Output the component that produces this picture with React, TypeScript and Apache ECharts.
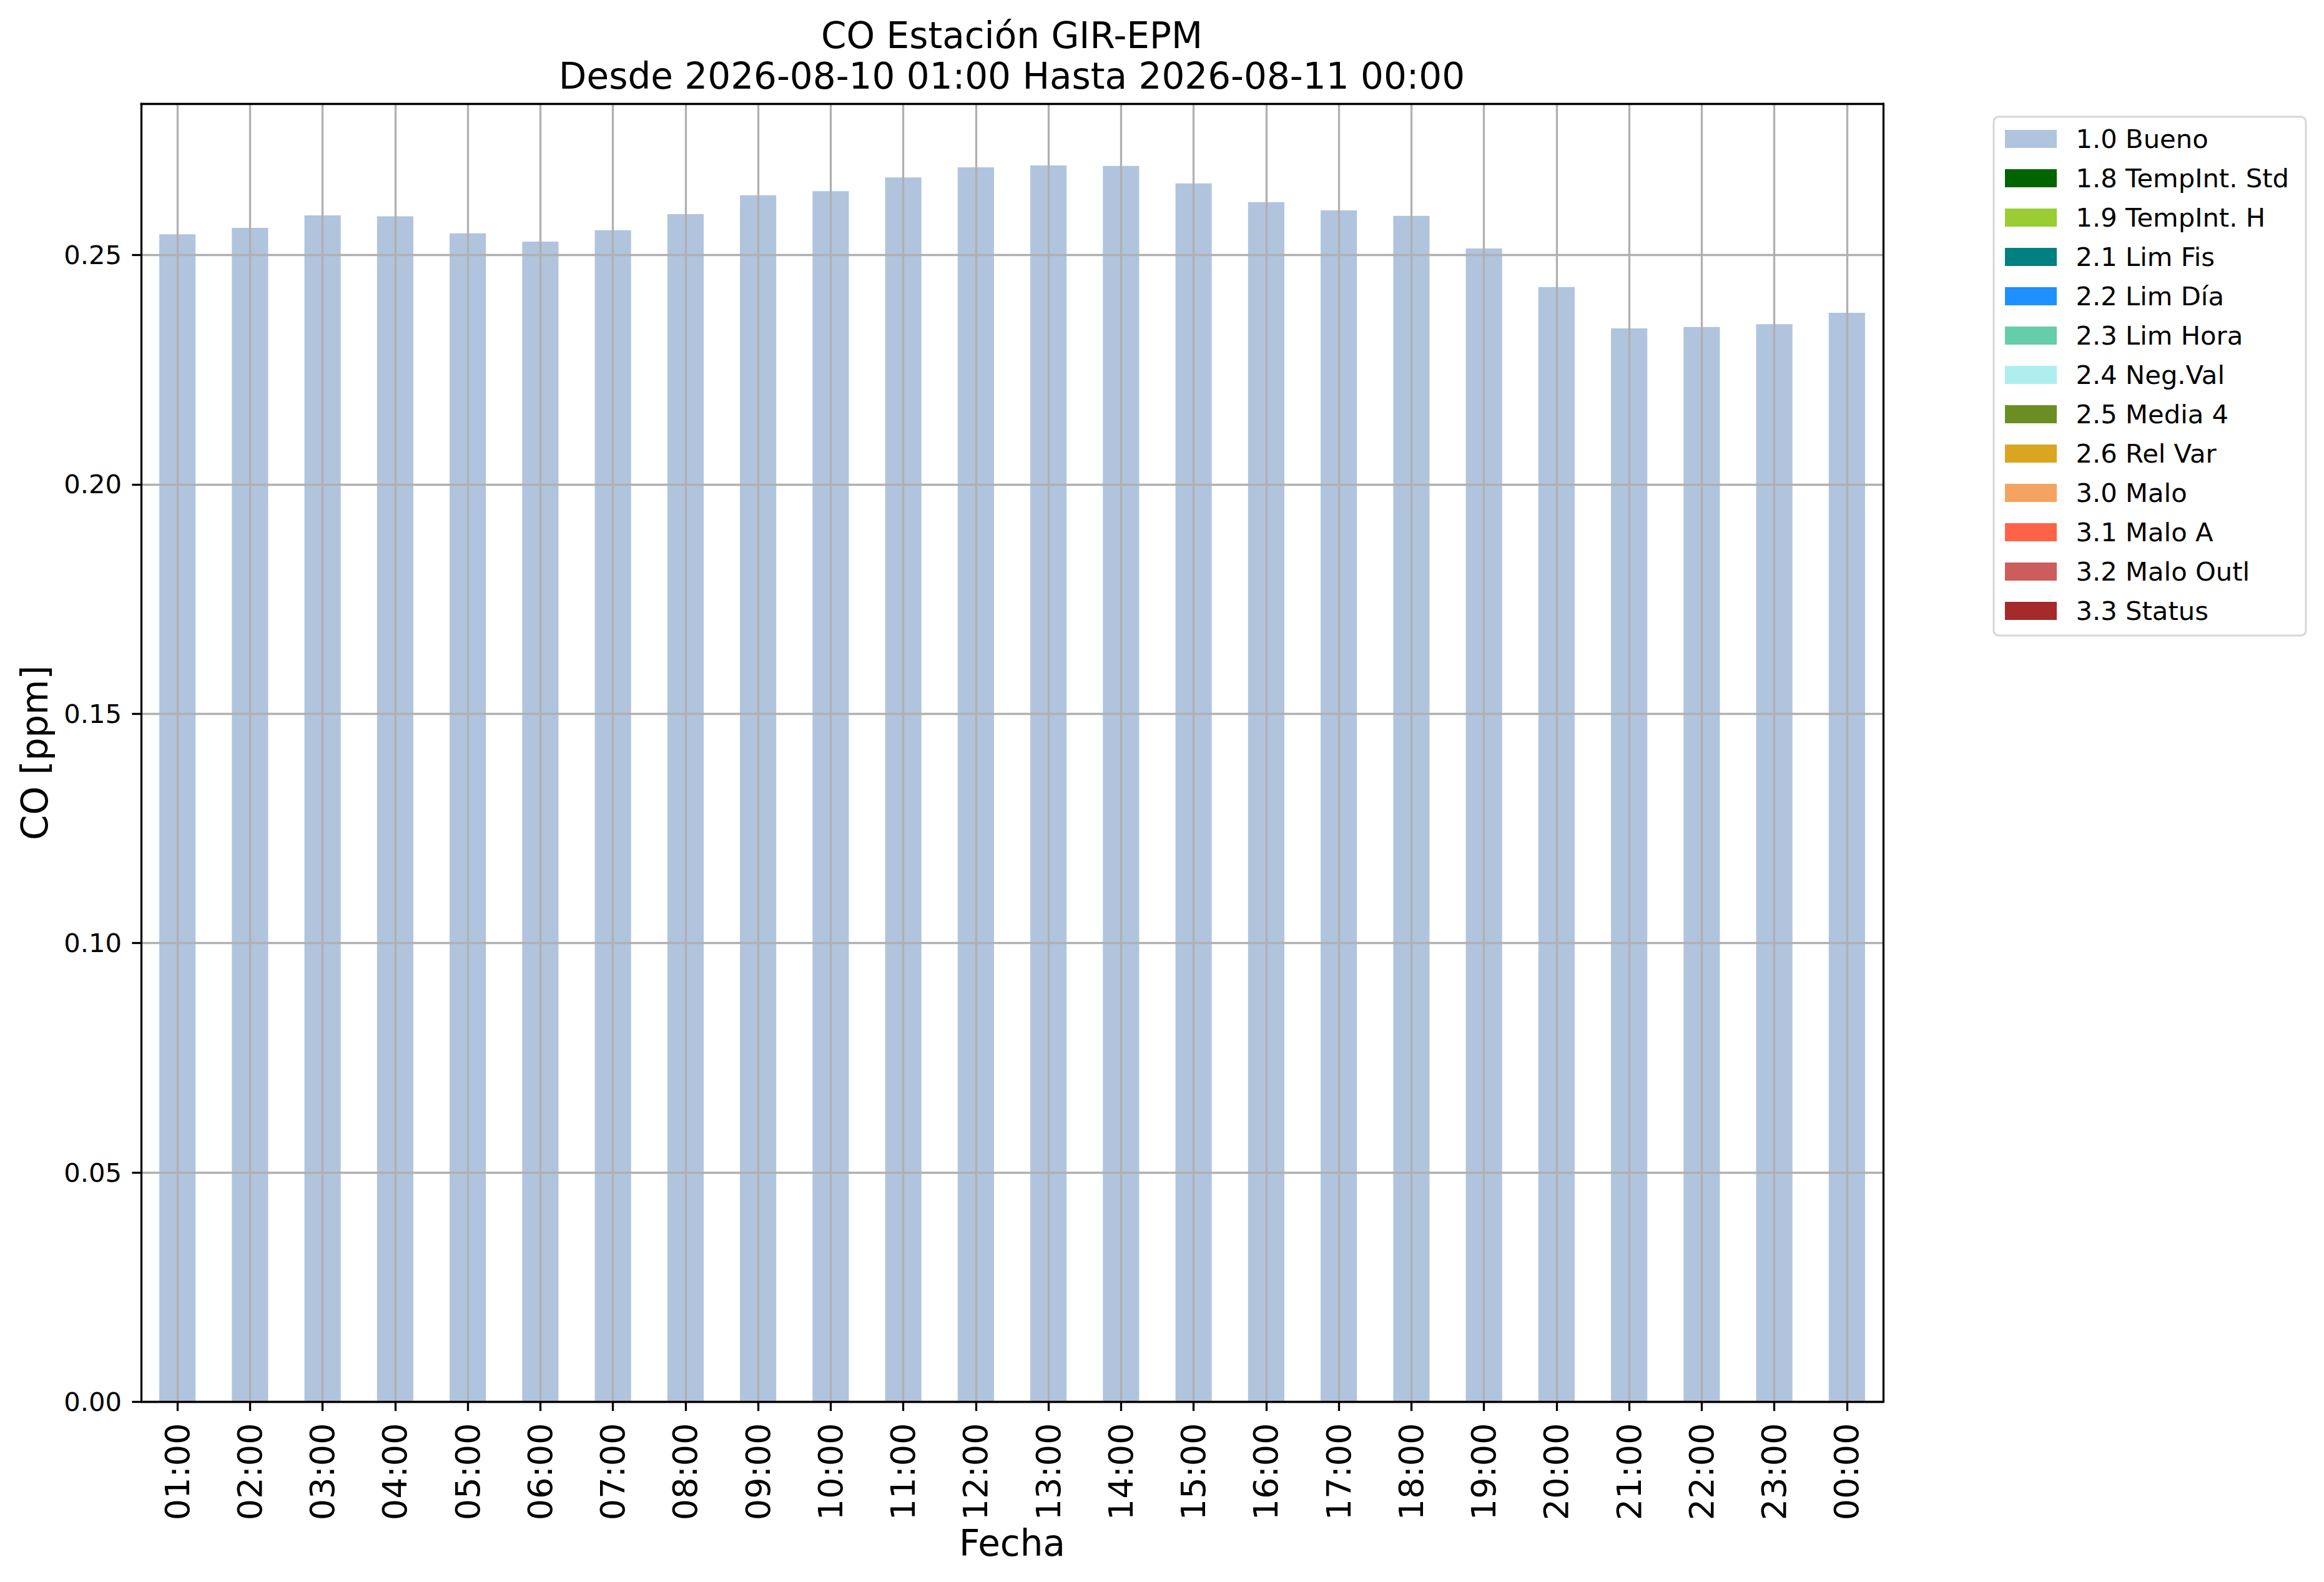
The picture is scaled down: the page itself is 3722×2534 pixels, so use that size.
import React, { useEffect, useRef } from 'react';
import * as echarts from 'echarts';

const categories = [
  '01:00', '02:00', '03:00', '04:00', '05:00', '06:00', '07:00', '08:00',
  '09:00', '10:00', '11:00', '12:00', '13:00', '14:00', '15:00', '16:00',
  '17:00', '18:00', '19:00', '20:00', '21:00', '22:00', '23:00', '00:00',
];

const buenoValues = [
  0.2545, 0.2559, 0.2586, 0.2584, 0.2547, 0.2529, 0.2554, 0.2589,
  0.2630, 0.2639, 0.2669, 0.2691, 0.2695, 0.2694, 0.2656, 0.2615,
  0.2597, 0.2585, 0.2514, 0.2430, 0.2340, 0.2343, 0.2349, 0.2374,
];

const flagNames = [
  '1.0 Bueno', '1.8 TempInt. Std', '1.9 TempInt. H', '2.1 Lim Fis', '2.2 Lim Día',
  '2.3 Lim Hora', '2.4 Neg.Val', '2.5 Media 4', '2.6 Rel Var', '3.0 Malo',
  '3.1 Malo A', '3.2 Malo Outl', '3.3 Status',
];

const flagColors = [
  '#B0C4DE', '#006400', '#9ACD32', '#008080', '#1E90FF',
  '#66CDAA', '#AFEEEE', '#6B8E23', '#DAA520', '#F4A460',
  '#FF6347', '#CD5C5C', '#A52A2A',
];

const yTicks = [0, 0.05, 0.1, 0.15, 0.2, 0.25];

const titleLines = ['CO Estación GIR-EPM', 'Desde 2026-08-10 01:00 Hasta 2026-08-11 00:00'];
const yAxisName = 'CO [ppm]';
const xAxisName = 'Fecha';

const FONT = 'DejaVu Sans';

export default function App() {
  const ref = useRef<HTMLDivElement>(null);

  useEffect(() => {
    if (!ref.current) return;
    const chart = echarts.init(ref.current, undefined, { renderer: 'svg' });
    const yMax = Math.max(...buenoValues) * 1.05;
    const gridColor = '#b0b0b0';
    const lw = 3.3;

    const series: any[] = flagNames.map((name, i) => ({
      name,
      type: 'bar',
      stack: 'flags',
      barWidth: '50%',
      xAxisIndex: 0,
      yAxisIndex: 0,
      itemStyle: { color: flagColors[i] },
      data: i === 0 ? buenoValues : [],
      z: 2,
    }));

    chart.setOption({
      animation: false,
      backgroundColor: '#ffffff',
      title: {
        text: titleLines.join('\n'),
        left: 1620.5,
        top: 24.5,
        padding: 0,
        textAlign: 'center',
        textStyle: {
          fontFamily: FONT,
          fontSize: 58,
          lineHeight: 65,
          fontWeight: 'normal',
          color: '#000000',
        },
      },
      legend: {
        orient: 'vertical',
        left: 3193,
        top: 187,
        padding: [14.5, 27, 18.5, 18],
        itemWidth: 83,
        itemHeight: 29,
        itemGap: 21,
        icon: 'rect',
        selectedMode: false,
        backgroundColor: 'rgba(255,255,255,0.8)',
        borderColor: '#d6d6d6',
        borderWidth: 3,
        borderRadius: 8,
        data: flagNames,
        textStyle: {
          fontFamily: FONT,
          fontSize: 41.7,
          lineHeight: 41.7,
          color: '#000000',
          padding: [0, 0, 0, 25.5],
        },
      },
      grid: {
        left: 226,
        right: 706,
        top: 166,
        bottom: 288.5,
        containLabel: false,
      },
      xAxis: [
        {
          type: 'category',
          data: categories,
          position: 'bottom',
          boundaryGap: true,
          z: 3,
          name: xAxisName,
          nameLocation: 'middle',
          nameGap: 197,
          nameTextStyle: { fontFamily: FONT, fontSize: 58, lineHeight: 58, color: '#000000' },
          axisLine: { show: true, onZero: false, lineStyle: { color: '#000000', width: lw } },
          axisTick: { show: true, alignWithLabel: true, length: 14.6, lineStyle: { color: '#000000', width: lw } },
          axisLabel: {
            interval: 0,
            rotate: 90,
            margin: 34,
            fontFamily: FONT,
            fontSize: 54,
            color: '#000000',
          },
          splitLine: { show: true, alignWithLabel: true, lineStyle: { color: gridColor, width: lw } },
        },
        {
          type: 'category',
          data: categories,
          position: 'top',
          z: 3,
          axisLine: { show: true, onZero: false, lineStyle: { color: '#000000', width: lw } },
          axisTick: { show: false },
          axisLabel: { show: false },
          splitLine: { show: false },
        },
      ],
      yAxis: [
        {
          type: 'value',
          min: 0,
          max: yMax,
          interval: 0.05,
          position: 'left',
          z: 3,
          name: yAxisName,
          nameLocation: 'middle',
          nameGap: 141,
          nameRotate: 90,
          nameTextStyle: { fontFamily: FONT, fontSize: 58, lineHeight: 58, color: '#000000' },
          axisLine: { show: true, lineStyle: { color: '#000000', width: lw } },
          axisTick: { show: true, customValues: yTicks, length: 14.6, lineStyle: { color: '#000000', width: lw } },
          axisLabel: {
            customValues: yTicks,
            margin: 31,
            fontFamily: FONT,
            fontSize: 41.7,
            color: '#000000',
            formatter: (v: number) => v.toFixed(2),
          },
          splitLine: { show: true, lineStyle: { color: gridColor, width: lw } },
        },
        {
          type: 'value',
          min: 0,
          max: yMax,
          position: 'right',
          z: 3,
          axisLine: { show: true, lineStyle: { color: '#000000', width: lw } },
          axisTick: { show: false },
          axisLabel: { show: false },
          splitLine: { show: false },
        },
      ],
      series,
    });

    return () => {
      chart.dispose();
    };
  }, []);

  return (
    <div
      ref={ref}
      style={{ position: 'fixed', left: 0, top: 0, width: 3722, height: 2534, background: '#ffffff' }}
    />
  );
}
